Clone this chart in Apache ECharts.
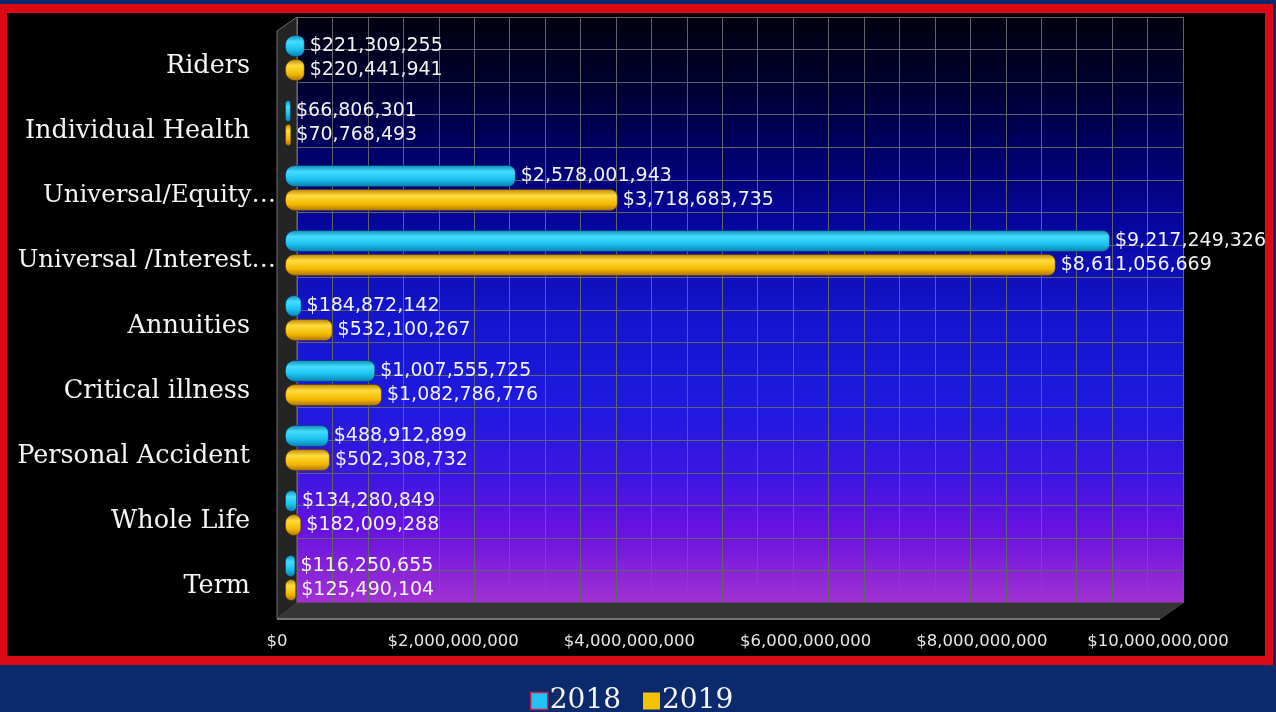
<!DOCTYPE html>
<html>
<head>
<meta charset="utf-8">
<title>Premium by product line, 2018 vs 2019</title>
<script src="https://cdn.jsdelivr.net/npm/echarts@6/dist/echarts.min.js"></script>
<style>
  html, body { margin: 0; padding: 0; background: #0b2a6e; overflow: hidden; }
  #frame {
    position: absolute; left: 0; top: 4px; width: 1273px; height: 661px;
    box-sizing: border-box; border-style: solid; border-color: #dc0a14;
    border-width: 9px 8px 9px 7px; background: #000;
  }
  #chart { position: absolute; left: 0; top: 0; width: 1276px; height: 712px; }
</style>
</head>
<body>
<div id="frame"></div>
<div id="chart"></div>
<script>
// Product lines, top to bottom
const categories = [
  'Riders',
  'Individual Health',
  'Universal/Equity…',
  'Universal /Interest…',
  'Annuities',
  'Critical illness',
  'Personal Accident',
  'Whole Life',
  'Term'
];

// Premium amounts (USD)
const values2018 = [221309255, 66806301, 2578001943, 9217249326, 184872142, 1007555725, 488912899, 134280849, 116250655];
const values2019 = [220441941, 70768493, 3718683735, 8611056669, 532100267, 1082786776, 502308732, 182009288, 125490104];

const seriesNames = ['2018', '2019'];

// Value axis range and tick spacing
const axisMax = 10000000000;
const tickStep = 2000000000;
const wallColumnStep = 400000000;
const wallRows = 18;

const money = v => '$' + Math.round(v).toLocaleString('en-US');

const G = echarts.graphic.LinearGradient;

const cyanFill = new G(0, 0, 0, 1, [
  { offset: 0, color: '#0b86b4' },
  { offset: 0.3, color: '#44dcff' },
  { offset: 0.65, color: '#1cc2f0' },
  { offset: 1, color: '#0a7aa8' }
]);
const goldFill = new G(0, 0, 0, 1, [
  { offset: 0, color: '#b88200' },
  { offset: 0.3, color: '#ffdc3c' },
  { offset: 0.7, color: '#f2b800' },
  { offset: 1, color: '#a86e00' }
]);
const wallFill = new G(0, 0, 0, 1, [
  { offset: 0, color: '#010110' },
  { offset: 0.1, color: '#00002a' },
  { offset: 0.22, color: '#000062' },
  { offset: 0.35, color: '#06069e' },
  { offset: 0.5, color: '#1414cc' },
  { offset: 0.66, color: '#1e1ade' },
  { offset: 0.78, color: '#3c16e2' },
  { offset: 0.88, color: '#6a12e0' },
  { offset: 1, color: '#a232d2' }
]);

const gridLine = { show: true, lineStyle: { color: '#62626a', width: 1 } };

const chart = echarts.init(document.getElementById('chart'), null, { renderer: 'canvas' });

const barLabel = {
  show: true,
  position: 'right',
  distance: 5,
  color: '#f2f2f2',
  fontFamily: 'DejaVu Sans',
  fontSize: 19,
  formatter: p => money(p.value)
};

chart.setOption({
  backgroundColor: 'transparent',
  animation: false,
  grid: [
    // back wall
    { left: 297, right: 93, top: 17, bottom: 109, show: true, backgroundColor: wallFill, borderWidth: 0 },
    // bars
    { left: 285, width: 895, top: 25.5, height: 585 },
    // front axis labels
    { left: 277, width: 881, top: 17, bottom: 92 }
  ],
  xAxis: [
    {
      gridIndex: 0, type: 'value', min: 0, max: axisMax, interval: wallColumnStep,
      axisLine: { show: false }, axisTick: { show: false }, axisLabel: { show: false },
      splitLine: gridLine
    },
    { gridIndex: 1, type: 'value', min: 0, max: axisMax, show: false },
    {
      gridIndex: 2, type: 'value', min: 0, max: axisMax, interval: tickStep,
      axisLine: { show: false }, axisTick: { show: false }, splitLine: { show: false },
      axisLabel: {
        margin: 13, color: '#e6e6e6', fontFamily: 'DejaVu Sans', fontSize: 16.5,
        formatter: v => money(v)
      }
    }
  ],
  yAxis: [
    {
      gridIndex: 0, type: 'value', min: 0, max: wallRows, interval: 1,
      axisLine: { show: false }, axisTick: { show: false }, axisLabel: { show: false },
      splitLine: gridLine
    },
    {
      gridIndex: 1, type: 'category', data: categories, inverse: true,
      axisLine: { show: false }, axisTick: { show: false }, splitLine: { show: false },
      axisLabel: {
        margin: 9,
        formatter: v => (v.endsWith('…') ? '{e|' + v + '}' : '{n|' + v + '}'),
        rich: {
          e: { color: '#f4f4f4', fontFamily: 'DejaVu Serif', fontSize: 24.5, padding: [16, 0, 0, 0] },
          n: { color: '#f4f4f4', fontFamily: 'DejaVu Serif', fontSize: 25.5, padding: [16, 26, 0, 0] }
        }
      }
    },
    { gridIndex: 2, type: 'value', min: 0, max: 1, show: false }
  ],
  legend: {
    left: 525, top: 682,
    itemWidth: 17, itemHeight: 17, itemGap: 22,
    icon: 'rect',
    textStyle: { color: '#f4f4f4', fontFamily: 'DejaVu Serif', fontSize: 28, padding: [0, 0, 0, -3] },
    data: [
      { name: seriesNames[0], itemStyle: { color: '#22c2f2', borderColor: '#c8204a', borderWidth: 1.5 } },
      { name: seriesNames[1], itemStyle: { color: '#f6c200', borderWidth: 0 } }
    ]
  },
  graphic: [
    // left side wall
    {
      type: 'polygon', z: 1, silent: true,
      shape: { points: [[277, 31], [297, 17], [297, 603], [277, 619]] },
      style: { fill: '#242424', stroke: '#707070', lineWidth: 1 }
    },
    // floor
    {
      type: 'polygon', z: 1, silent: true,
      shape: { points: [[277, 619], [297, 603], [1183, 603], [1160, 619]] },
      style: { fill: '#353535', stroke: '#3c3c3c', lineWidth: 1 }
    },
    {
      type: 'line', z: 1, silent: true,
      shape: { x1: 277, y1: 619, x2: 1160, y2: 619 },
      style: { stroke: '#8a8a8a', lineWidth: 1.5 }
    }
  ],
  series: [
    {
      name: seriesNames[0], type: 'bar', xAxisIndex: 1, yAxisIndex: 1,
      data: values2018, barWidth: 22, barGap: '9%', z: 3,
      itemStyle: { color: cyanFill, borderRadius: [9, 7, 7, 9], borderColor: 'rgba(0,40,70,0.45)', borderWidth: 1 },
      label: barLabel
    },
    {
      name: seriesNames[1], type: 'bar', xAxisIndex: 1, yAxisIndex: 1,
      data: values2019, barWidth: 22, z: 3,
      itemStyle: { color: goldFill, borderRadius: [9, 7, 7, 9], borderColor: 'rgba(80,50,0,0.5)', borderWidth: 1 },
      label: barLabel
    }
  ]
});
</script>
</body>
</html>
